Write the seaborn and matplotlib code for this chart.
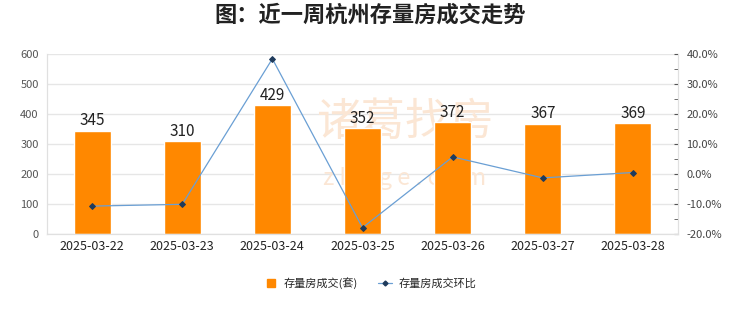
import numpy as np
import pandas as pd
import matplotlib.pyplot as plt
import matplotlib.ticker as mticker
from matplotlib.lines import Line2D
import seaborn as sns

# Data
dates = ['2025-03-22', '2025-03-23', '2025-03-24', '2025-03-25',
         '2025-03-26', '2025-03-27', '2025-03-28']
deals = [345, 310, 429, 352, 372, 367, 369]
mom_pct = [-10.7, -10.1, 38.4, -17.9, 5.7, -1.3, 0.5]

sns.set_style('white')
plt.rcParams['font.family'] = ['Noto Sans CJK SC', 'DejaVu Sans']

df = pd.DataFrame({'date': dates, 'deals': deals, 'mom': mom_pct})
df['pos'] = np.arange(len(df))

fig = plt.figure(figsize=(7.4, 3.12), dpi=100)
ax = fig.add_axes([47 / 740, 1 - 234 / 312, 631 / 740, 180 / 312])

# faint watermark behind the bars
ax.text(0.567, 0.62, '诸葛找房', transform=ax.transAxes, ha='center', va='center',
        fontsize=32, color='#fbe6d4', zorder=1)
ax.text(0.567, 0.31, 'z h u g e . c o m', transform=ax.transAxes, ha='center',
        va='center', fontsize=17, color='#fbe6d4', zorder=1)

sns.barplot(data=df, x='date', y='deals', color='#ff8800', saturation=1,
            width=0.41, ax=ax, zorder=2)
for i, v in enumerate(deals):
    ax.text(i, v + 5, str(v), ha='center', va='bottom', fontsize=11,
            color='#222222', zorder=4)

ax.set_ylim(0, 600)
ax.set_yticks(range(0, 601, 100))
ax.set_xlim(-0.5, 6.5)
ax.grid(axis='y', color='#e6e6e6', linewidth=1, zorder=0)
ax.set_axisbelow(True)
ax.set_xlabel('')
ax.set_ylabel('')
ax.tick_params(axis='y', length=0, labelsize=8, labelcolor='#555555', pad=6)
ax.tick_params(axis='x', length=0, labelsize=9, labelcolor='#222222', pad=4)
ax.spines['top'].set_visible(False)
for s in ['left', 'bottom', 'right']:
    ax.spines[s].set_color('#e0e0e0')

ax2 = ax.twinx()
sns.lineplot(data=df, x='pos', y='mom', ax=ax2, color='#6a9fd4', linewidth=0.9,
             marker='D', markersize=3, markerfacecolor='#1f3b5c',
             markeredgecolor='#1f3b5c', zorder=3)
ax2.set_ylim(-20, 40)
ax2.set_yticks(range(-20, 41, 10))
ax2.yaxis.set_minor_locator(mticker.MultipleLocator(5))
ax2.yaxis.set_major_formatter(mticker.FuncFormatter(lambda v, p: f'{v:.1f}%'))
ax2.tick_params(axis='y', which='both', direction='in', length=3, color='#555555',
                labelsize=8, labelcolor='#444444', pad=6)
ax2.set_xlabel('')
ax2.set_ylabel('')
ax2.spines['top'].set_visible(False)
for s in ['left', 'bottom', 'right']:
    ax2.spines[s].set_color('#e0e0e0')
ax2.set_xlim(-0.5, 6.5)

fig.suptitle('图：近一周杭州存量房成交走势', fontsize=16, fontweight='bold',
             x=0.5, y=0.99, color='#222222')

# legend
handles = [
    Line2D([], [], marker='s', linestyle='none', color='#ff8800', markersize=6),
    Line2D([], [], marker='D', color='#6a9fd4', markersize=2.5,
           markerfacecolor='#1f3b5c', markeredgecolor='#1f3b5c', linewidth=0.9),
]
fig.legend(handles, ['存量房成交(套)', '存量房成交环比'], loc='center',
           bbox_to_anchor=(0.5, 1 - 283 / 312), ncol=2, frameon=False,
           fontsize=8, handlelength=1.2, handletextpad=0.6, columnspacing=1.8)

plt.savefig('out.png', dpi=100)
plt.close()
